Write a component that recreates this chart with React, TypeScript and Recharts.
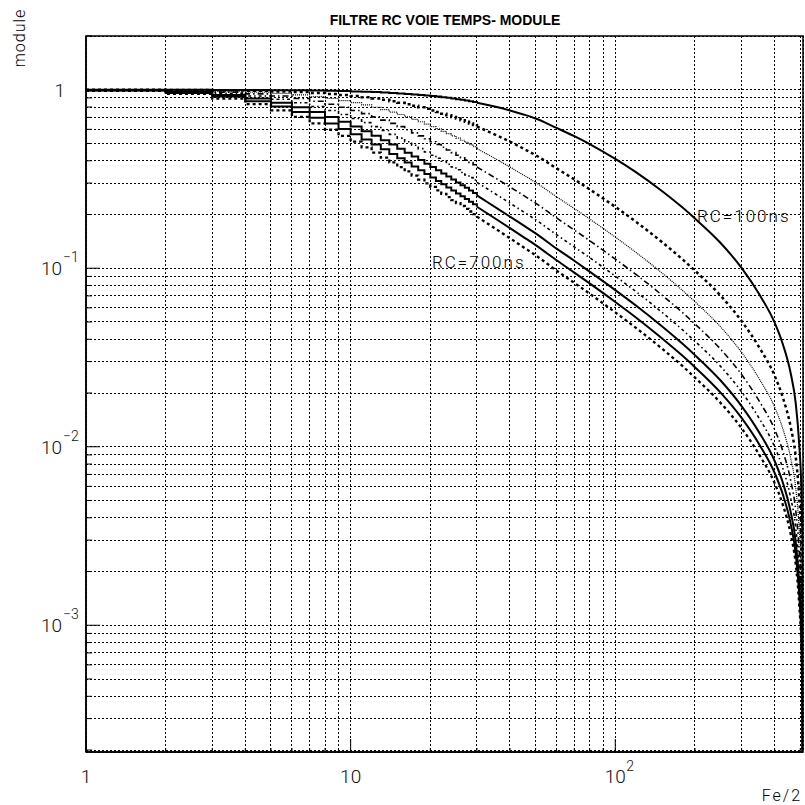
import React from "react";
import { CartesianGrid, Line, LineChart, ReferenceArea, XAxis, YAxis } from "recharts";

// frequency index (histogram bins, drawn as steps at low index)
const stepX = [1, 2, 3, 4, 5, 6, 7, 8, 9, 10, 11, 12, 13, 14, 15, 16, 17, 18, 19, 20, 21, 22, 23, 24, 25, 26, 27, 28, 29, 30];
const curveX = [30, 32, 36, 40, 45, 50, 60, 70, 80, 100, 120, 150, 180, 200, 250, 300, 350, 400, 430, 460, 480, 495, 505, 510, 512];

const rc100Step = [0.9998, 0.9991, 0.998, 0.9965, 0.9945, 0.9922, 0.9894, 0.9862, 0.9826, 0.9786, 0.9743, 0.9697, 0.9647, 0.9594, 0.9538, 0.9479, 0.9418, 0.9354, 0.9288, 0.922, 0.915, 0.9078, 0.9005, 0.893, 0.8853, 0.8777, 0.8698, 0.862, 0.8541, 0.8461];
const rc200Step = [0.9991, 0.9965, 0.9922, 0.9862, 0.9786, 0.9697, 0.9594, 0.9479, 0.9354, 0.922, 0.9078, 0.893, 0.8777, 0.862, 0.8461, 0.83, 0.8139, 0.7977, 0.7816, 0.7657, 0.7499, 0.7344, 0.7192, 0.7043, 0.6897, 0.6753, 0.6615, 0.6479, 0.6346, 0.6216];
const rc300Step = [0.998, 0.9922, 0.9826, 0.9697, 0.9538, 0.9354, 0.915, 0.893, 0.8698, 0.8461, 0.8219, 0.7977, 0.7737, 0.7499, 0.7267, 0.7043, 0.6825, 0.6615, 0.6411, 0.6216, 0.603, 0.585, 0.568, 0.5516, 0.536, 0.5211, 0.5068, 0.4932, 0.4801, 0.4677];
const rc400Step = [0.9965, 0.9862, 0.9697, 0.9479, 0.922, 0.893, 0.862, 0.83, 0.7977, 0.7657, 0.7344, 0.7043, 0.6753, 0.6479, 0.6216, 0.597, 0.5736, 0.5516, 0.531, 0.5116, 0.4932, 0.4759, 0.4597, 0.4443, 0.4299, 0.4163, 0.4034, 0.3914, 0.3798, 0.3689];
const rc500Step = [0.9945, 0.9786, 0.9538, 0.922, 0.8853, 0.8461, 0.8058, 0.7657, 0.7267, 0.6897, 0.6546, 0.6216, 0.591, 0.5625, 0.536, 0.5116, 0.4886, 0.4677, 0.4481, 0.4299, 0.413, 0.3973, 0.3826, 0.3689, 0.356, 0.344, 0.3327, 0.322, 0.312, 0.3026];
const rc600Step = [0.9922, 0.9697, 0.9354, 0.893, 0.8461, 0.7977, 0.7499, 0.7043, 0.6615, 0.6216, 0.585, 0.5516, 0.5211, 0.4932, 0.4677, 0.4443, 0.423, 0.4034, 0.3855, 0.3689, 0.3535, 0.3393, 0.3262, 0.314, 0.3026, 0.292, 0.282, 0.2727, 0.264, 0.2558];
const rc700Step = [0.9894, 0.9594, 0.915, 0.862, 0.8058, 0.7499, 0.6969, 0.6479, 0.603, 0.5625, 0.526, 0.4932, 0.4636, 0.437, 0.413, 0.3914, 0.3715, 0.3535, 0.3371, 0.322, 0.3082, 0.2953, 0.2837, 0.2727, 0.2626, 0.2531, 0.2443, 0.2361, 0.2284, 0.2211];
const rc800Step = [0.9862, 0.9479, 0.893, 0.83, 0.7657, 0.7043, 0.6479, 0.597, 0.5516, 0.5116, 0.4759, 0.4443, 0.4163, 0.3914, 0.3689, 0.3487, 0.3304, 0.314, 0.2989, 0.2853, 0.2727, 0.2612, 0.2505, 0.2407, 0.2316, 0.2232, 0.2153, 0.2079, 0.2011, 0.1946];

const rc100Curve = [0.8461, 0.83, 0.7977, 0.7657, 0.7267, 0.6897, 0.611, 0.5496, 0.4963, 0.4097, 0.3442, 0.2708, 0.2179, 0.1899, 0.1385, 0.1004, 0.0714, 0.0496, 0.0374, 0.0258, 0.0178, 0.0105, 0.00563, 0.00233, 0.00001];
const rc200Curve = [0.6216, 0.597, 0.5516, 0.5116, 0.4677, 0.4299, 0.3626, 0.3146, 0.2767, 0.2207, 0.1816, 0.1403, 0.1117, 0.0969, 0.0702, 0.0506, 0.036, 0.025, 0.0188, 0.0129, 0.00892, 0.00529, 0.00283, 0.00117, 0.00001];
const rc300Curve = [0.4677, 0.4443, 0.4034, 0.3689, 0.3327, 0.3026, 0.2514, 0.216, 0.1888, 0.1494, 0.1223, 0.0942, 0.0748, 0.0649, 0.0469, 0.0338, 0.024, 0.01667, 0.01255, 0.00863, 0.00595, 0.00353, 0.00189, 0.00078, 0.00001];
const rc400Curve = [0.3689, 0.3487, 0.314, 0.2853, 0.2558, 0.2316, 0.1913, 0.1638, 0.1428, 0.1126, 0.0921, 0.0708, 0.0562, 0.0487, 0.0352, 0.0254, 0.018, 0.0125, 0.00941, 0.00647, 0.00446, 0.00265, 0.00141, 0.00058, 0.00001];
const rc500Curve = [0.3026, 0.2853, 0.2558, 0.2316, 0.207, 0.1871, 0.1541, 0.1317, 0.1147, 0.0903, 0.0738, 0.0567, 0.045, 0.039, 0.0282, 0.0203, 0.0144, 0.01, 0.00753, 0.00518, 0.00357, 0.00212, 0.00113, 0.00047, 0.00001];
const rc600Curve = [0.2558, 0.2407, 0.2153, 0.1946, 0.1737, 0.1568, 0.1289, 0.1101, 0.0957, 0.0754, 0.0616, 0.0473, 0.0376, 0.0326, 0.0235, 0.0169, 0.012, 0.00833, 0.00627, 0.00431, 0.00298, 0.00176, 0.00094, 0.00039, 0.00001];
const rc700Curve = [0.2211, 0.2079, 0.1857, 0.1677, 0.1495, 0.1348, 0.1108, 0.0945, 0.0822, 0.0647, 0.0528, 0.0405, 0.0322, 0.0279, 0.0201, 0.0145, 0.0103, 0.00714, 0.00538, 0.0037, 0.00255, 0.00151, 0.00081, 0.00033, 0.00001];
const rc800Curve = [0.1946, 0.1829, 0.1631, 0.1472, 0.1311, 0.1182, 0.097, 0.0828, 0.072, 0.0566, 0.0462, 0.0355, 0.0282, 0.0244, 0.0176, 0.0127, 0.00901, 0.00625, 0.00471, 0.00324, 0.00223, 0.00132, 0.00071, 0.00029, 0.00001];

const xTicks = [1, 2, 3, 4, 5, 6, 7, 8, 9, 10, 20, 30, 40, 50, 60, 70, 80, 90, 100, 200, 300, 400, 500];
const yTicks = [
  0.0002, 0.0003, 0.0004, 0.0005, 0.0006, 0.0007, 0.0008, 0.0009,
  0.001, 0.002, 0.003, 0.004, 0.005, 0.006, 0.007, 0.008, 0.009,
  0.01, 0.02, 0.03, 0.04, 0.05, 0.06, 0.07, 0.08, 0.09,
  0.1, 0.2, 0.3, 0.4, 0.5, 0.6, 0.7, 0.8, 0.9, 1, 2,
];
const xLabels: Record<number, [string, string]> = { 1: ["1", ""], 10: ["10", ""], 100: ["10", "2"] };
const yLabels: Record<number, [string, string]> = { 1: ["1", ""], 0.1: ["10", "\u22121"], 0.01: ["10", "\u22122"], 0.001: ["10", "\u22123"] };

const series = [
  { name: "RC=100ns", step: rc100Step, curve: rc100Curve, dash: undefined, width: 2 },
  { name: "RC=200ns", step: rc200Step, curve: rc200Curve, dash: "3 3", width: 2.5 },
  { name: "RC=300ns", step: rc300Step, curve: rc300Curve, dash: "1 1", width: 1.2 },
  { name: "RC=400ns", step: rc400Step, curve: rc400Curve, dash: "6 3 1.5 3", width: 1.6 },
  { name: "RC=500ns", step: rc500Step, curve: rc500Curve, dash: "3 3 1.5 3", width: 1.6 },
  { name: "RC=600ns", step: rc600Step, curve: rc600Curve, dash: undefined, width: 2 },
  { name: "RC=700ns", step: rc700Step, curve: rc700Curve, dash: undefined, width: 2 },
  { name: "RC=800ns", step: rc800Step, curve: rc800Curve, dash: "3 3", width: 2.3 },
];

const toPoints = (xs: number[], ys: number[]) => xs.map((x, i) => ({ x, y: ys[i] }));

const FONT = "Roboto, 'DejaVu Sans', sans-serif";

function XTick(props: any) {
  const { x, y, payload } = props;
  const v = payload.value;
  const lab = xLabels[v];
  return (
    <g>
      <line x1={x} y1={y} x2={x} y2={y - (lab ? 13 : 4)} stroke="#000" strokeWidth={1} />
      {lab && (
        <text fontFamily={FONT} fontWeight={300} fill="#111">
          <tspan x={x} y={783} fontSize={19} textAnchor="middle">{lab[0]}</tspan>
          {lab[1] && (
            <tspan x={x + 11} y={771} fontSize={14}>{lab[1]}</tspan>
          )}
        </text>
      )}
    </g>
  );
}

function YTick(props: any) {
  const { x, y, payload } = props;
  const v = payload.value;
  const lab = yLabels[v];
  return (
    <g>
      <line x1={x} y1={y} x2={x + (lab ? 14 : 6)} y2={y} stroke="#000" strokeWidth={1} />
      {lab && (
        <text fontFamily={FONT} fontWeight={300} fill="#111">
          <tspan x={lab[1] ? x - 24 : x - 21} y={y + 7} fontSize={19} textAnchor="end">{lab[0]}</tspan>
          {lab[1] && (
            <tspan x={x - 23} y={y - 6} fontSize={14} textAnchor="start">{lab[1]}</tspan>
          )}
        </text>
      )}
    </g>
  );
}

export default function App() {
  return (
    <div style={{ position: "absolute", left: 0, top: 0, width: 805, height: 805, background: "#fff" }}>
      <LineChart width={805} height={805} margin={{ top: 36, right: 2, bottom: 0, left: 0 }}>
        <CartesianGrid stroke="#000" strokeDasharray="1.5 2.5" strokeWidth={1} shapeRendering="crispEdges" />
        <XAxis
          dataKey="x"
          type="number"
          scale="log"
          domain={[1, 512]}
          ticks={xTicks}
          interval={0}
          allowDataOverflow
          height={53}
          tickSize={0}
          tickMargin={0}
          tick={<XTick />}
          axisLine={{ stroke: "#000", strokeWidth: 1.5 }}
        />
        <YAxis
          type="number"
          scale="log"
          domain={[0.000195, 2]}
          ticks={yTicks}
          interval={0}
          allowDataOverflow
          width={86}
          tickSize={0}
          tickMargin={0}
          tick={<YTick />}
          axisLine={{ stroke: "#000", strokeWidth: 1.5 }}
        />
        {series.map((s) => (
          <Line
            key={s.name + "-step"}
            data={toPoints(stepX, s.step)}
            dataKey="y"
            name={s.name}
            type="stepAfter"
            stroke="#000"
            strokeWidth={s.width}
            strokeDasharray={s.dash}
            dot={false}
            activeDot={false}
            isAnimationActive={false}
          />
        ))}
        {series.map((s) => (
          <Line
            key={s.name + "-curve"}
            data={toPoints(curveX, s.curve)}
            dataKey="y"
            name={s.name}
            type="monotone"
            stroke="#000"
            strokeWidth={s.width}
            strokeDasharray={s.dash}
            dot={false}
            activeDot={false}
            isAnimationActive={false}
          />
        ))}
        <ReferenceArea x1={1} x2={512} y1={0.000195} y2={2} fill="none" stroke="#000" strokeWidth={1.5} />
      </LineChart>
      <svg width={805} height={805} style={{ position: "absolute", left: 0, top: 0, pointerEvents: "none" }}>
        <text x={445} y={25} textAnchor="middle" fontFamily="'Liberation Sans', Arial, sans-serif" fontWeight={700} fontSize={14}>
          FILTRE RC VOIE TEMPS- MODULE
        </text>
        <text x={25} y={38} transform="rotate(-90 25 38)" textAnchor="middle" fontFamily={FONT} fontWeight={300} fontSize={16} letterSpacing={1}>
          module
        </text>
        <text x={802} y={801} textAnchor="end" fontFamily={FONT} fontWeight={300} fontSize={16} letterSpacing={2}>
          Fe/2
        </text>
        <text x={697} y={222} fontFamily={FONT} fontWeight={300} fontSize={17} letterSpacing={2}>
          RC=100ns
        </text>
        <text x={432} y={268} fontFamily={FONT} fontWeight={300} fontSize={17} letterSpacing={2}>
          RC=700ns
        </text>
      </svg>
    </div>
  );
}
